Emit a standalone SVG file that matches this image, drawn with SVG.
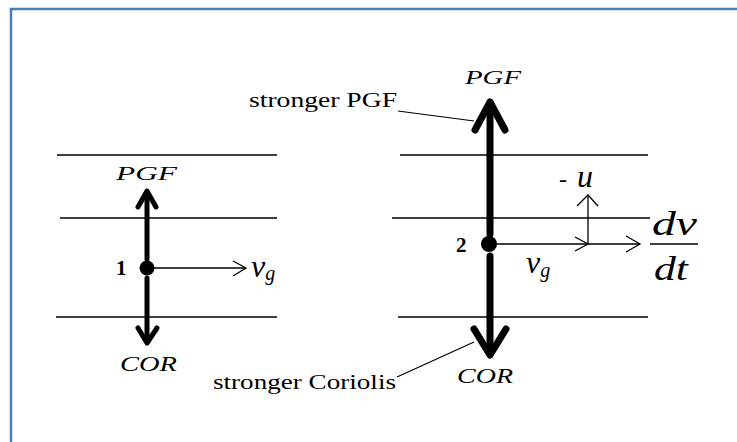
<svg xmlns="http://www.w3.org/2000/svg" width="737" height="442" viewBox="0 0 737 442" font-family="Liberation Serif, Times New Roman, DejaVu Serif, serif">
<style>
.lvl{stroke:#000;stroke-width:1.5;fill:none}
.thk{stroke:#000;fill:none;stroke-linecap:round;stroke-linejoin:round}
.thin{stroke:#000;stroke-width:1.3;fill:none}
.lbl{font-style:italic}
.num{font-weight:bold}
</style>
<rect x="11" y="9" width="740" height="440" fill="#fff" stroke="#4a7ebb" stroke-width="2.5"/>
<g id="levels-left">
<line class="lvl" x1="57" y1="155" x2="277" y2="155"/>
<line class="lvl" x1="60" y1="218" x2="277" y2="218"/>
<line class="lvl" x1="56" y1="317" x2="277" y2="317"/>
</g>
<g id="levels-right">
<line class="lvl" x1="400" y1="155" x2="648" y2="155"/>
<line class="lvl" x1="392" y1="218" x2="650" y2="218"/>
<line class="lvl" x1="398" y1="317" x2="648" y2="317"/>
</g>
<g id="connectors">
<line class="thk" stroke-width="5" x1="147" y1="259" x2="147" y2="192"/>
<polyline class="thk" stroke-width="5" points="138,207 147,191 156,207"/>
<line class="thk" stroke-width="5" x1="147" y1="278" x2="147" y2="342"/>
<polyline class="thk" stroke-width="5" points="138,328 147,343 157,328"/>
<line class="thin" x1="154" y1="268" x2="246" y2="268"/>
<polyline class="thin" points="233,261 246,268 233,276"/>
<line class="thk" stroke-width="7" x1="490" y1="234" x2="490" y2="104"/>
<polyline class="thk" stroke-width="7" points="475,130 490,102 505,130"/>
<line class="thk" stroke-width="7" x1="490" y1="256" x2="490" y2="352"/>
<polyline class="thk" stroke-width="7" points="474,329 490,355 506,329"/>
<line class="thin" x1="497" y1="244" x2="640" y2="244"/>
<polyline class="thin" points="575,237 588,244 575,251"/>
<polyline class="thin" points="626,236 640,244 626,252"/>
<line class="thin" x1="588" y1="244" x2="588" y2="195"/>
<polyline class="thin" points="577,206 588,195 598,206"/>
<line stroke="#000" stroke-width="1.2" x1="398" y1="111" x2="474" y2="121"/>
<line stroke="#000" stroke-width="1.2" x1="397" y1="377" x2="474" y2="342"/>
</g>
<g id="node-1">
<circle cx="147" cy="268" r="7.5" fill="#000"/>
<text class="num" x="116" y="275" font-size="21">1</text>
<text class="lbl" x="116" y="180" font-size="19" textLength="61" lengthAdjust="spacingAndGlyphs">PGF</text>
<text class="lbl" x="120" y="371" font-size="20" textLength="57" lengthAdjust="spacingAndGlyphs">COR</text>
<text class="lbl" x="251" y="277" font-size="32">v<tspan font-size="20" dy="3">g</tspan></text>
</g>
<g id="node-2">
<circle cx="489" cy="244" r="8" fill="#000"/>
<text class="num" x="456" y="252" font-size="21">2</text>
<text class="lbl" x="465" y="84" font-size="19" textLength="56" lengthAdjust="spacingAndGlyphs">PGF</text>
<text class="lbl" x="457" y="383" font-size="20" textLength="56" lengthAdjust="spacingAndGlyphs">COR</text>
<text class="lbl" x="526" y="273" font-size="32">v<tspan font-size="20" dy="4">g</tspan></text>
<text x="559" y="187" font-size="24">-</text>
<text class="lbl" x="577" y="187" font-size="32">u</text>
<text class="lbl" x="652" y="235" font-size="34" textLength="45" lengthAdjust="spacingAndGlyphs">dv</text>
<line stroke="#000" stroke-width="1.5" x1="650" y1="244" x2="698" y2="244"/>
<text class="lbl" x="654" y="280" font-size="34" textLength="34" lengthAdjust="spacingAndGlyphs">dt</text>
</g>
<g id="annotations">
<text x="249" y="107" font-size="20" textLength="148" lengthAdjust="spacingAndGlyphs">stronger PGF</text>
<text x="213" y="389" font-size="20" textLength="183" lengthAdjust="spacingAndGlyphs">stronger Coriolis</text>
</g>
</svg>
